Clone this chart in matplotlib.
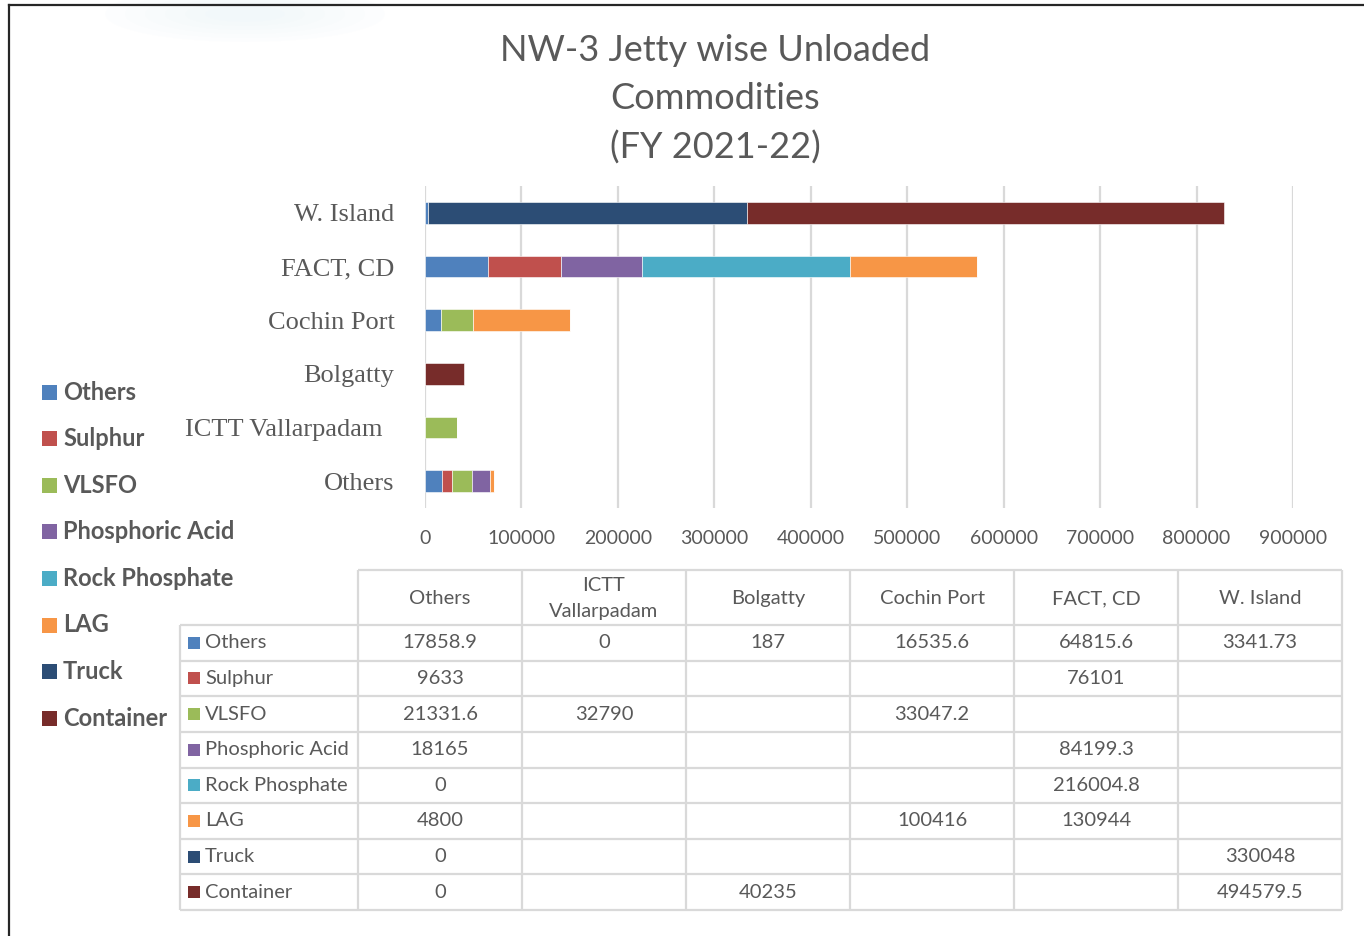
import numpy as np
import matplotlib.pyplot as plt
import matplotlib.transforms as mtransforms
from matplotlib.patches import Rectangle, Ellipse

# jetties as they appear on the y axis (bottom to top) and as table columns
jetties = ["Others", "ICTT Vallarpadam", "Bolgatty", "Cochin Port", "FACT, CD", "W. Island"]
col_heads = ["Others", "ICTT\nVallarpadam", "Bolgatty", "Cochin Port", "FACT, CD", "W. Island"]

commodities = ["Others", "Sulphur", "VLSFO", "Phosphoric Acid",
               "Rock Phosphate", "LAG", "Truck", "Container"]

# unloaded quantity per jetty, None = blank cell
others    = [17858.9, 0, 187, 16535.6, 64815.6, 3341.73]
sulphur   = [9633, None, None, None, 76101, None]
vlsfo     = [21331.6, 32790, None, 33047.2, None, None]
phos_acid = [18165, None, None, None, 84199.3, None]
rock_phos = [0, None, None, None, 216004.8, None]
lag       = [4800, None, None, 100416, 130944, None]
truck     = [0, None, None, None, None, 330048]
container = [0, None, 40235, None, None, 494579.5]

series = [others, sulphur, vlsfo, phos_acid, rock_phos, lag, truck, container]
colors = ["#4F81BD", "#C0504D", "#9BBB59", "#8064A2",
          "#4BACC6", "#F79646", "#2C4D75", "#772C2A"]

xticks = np.arange(0, 900001, 100000)

gray = "#595959"
grid = "#d9d9d9"
W, H = 1364, 936

fig = plt.figure(figsize=(W / 100, H / 100), dpi=100)

# overlay in pixel coordinates for frame, title, legend and table
ov = fig.add_axes([0, 0, 1, 1], zorder=0)
ov.set_xlim(0, W)
ov.set_ylim(H, 0)
ov.axis("off")

# faint glow top left
for k in range(6):
    ov.add_patch(Ellipse((245, 14), 280 - 40 * k, 56 - 8 * k,
                         color="#e8f2fa", alpha=0.09, lw=0))

# frame
ov.plot([9, W], [5, 5], color="#262626", lw=1.6)
ov.plot([9, 9], [5, H], color="#262626", lw=1.6)

# title
ov.text(715, 99, "NW-3 Jetty wise Unloaded\nCommodities\n(FY 2021-22)",
        ha="center", va="center", fontsize=26, color=gray,
        family="Lato", linespacing=1.56)

# chart
ax = fig.add_axes([425 / W, 1 - 508 / H, 868 / W, 322 / H], zorder=1)
ax.patch.set_alpha(0)
ypos = np.arange(len(jetties))
left = np.zeros(len(jetties))
for vals, c in zip(series, colors):
    v = np.array([0 if x is None else x for x in vals], dtype=float)
    ax.barh(ypos, v, left=left, height=0.4, color=c, edgecolor="white",
            linewidth=0.4)
    left += v

ax.set_xlim(0, 900000)
ax.set_ylim(-0.5, len(jetties) - 0.5)
ax.set_xticks(xticks)
ax.set_xticklabels([str(t) for t in xticks], family="Lato", fontsize=14,
                   color=gray)
ax.set_yticks(ypos)
ax.set_yticklabels(jetties, family="Liberation Serif", fontsize=19,
                   color=gray)
ax.tick_params(axis="both", length=0)
ax.tick_params(axis="x", pad=16)
ax.tick_params(axis="y", pad=22)
ax.grid(axis="x", color=grid, lw=1.6)
ax.set_axisbelow(True)
for s in ax.spines.values():
    s.set_visible(False)

# the long label sits a bit further left in the original
shift = mtransforms.ScaledTranslation(-0.12, 0, fig.dpi_scale_trans)
lbl = ax.get_yticklabels()[1]
lbl.set_transform(lbl.get_transform() + shift)

# legend on the left
for i, (name, c) in enumerate(zip(commodities, colors)):
    y = 392 + i * 46.6
    ov.add_patch(Rectangle((42, y - 7.5), 15, 15, color=c, lw=0))
    ov.text(63, y, name, ha="left", va="center", fontsize=17,
            fontweight="bold", color=gray, family="Lato")

# data table
col_x = [358 + 164 * k for k in range(7)]
lab_x0 = 180
head_y0, head_y1 = 570, 625
row_h = (910 - 625) / 8
lc = dict(color=grid, lw=1.6, solid_capstyle="butt")

ov.plot([col_x[0], col_x[-1]], [head_y0, head_y0], **lc)
for k, x in enumerate(col_x):
    ov.plot([x, x], [head_y0, 910], **lc)
ov.plot([lab_x0, lab_x0], [head_y1, 910], **lc)
for r in range(9):
    y = head_y1 + r * row_h
    ov.plot([lab_x0, col_x[-1]], [y, y], **lc)

for k, h in enumerate(col_heads):
    ov.text((col_x[k] + col_x[k + 1]) / 2, (head_y0 + head_y1) / 2 + 1, h,
            ha="center", va="center", fontsize=14.5, color=gray,
            family="Lato", linespacing=1.6)

for r, (name, c, vals) in enumerate(zip(commodities, colors, series)):
    yc = head_y1 + (r + 0.5) * row_h
    ov.add_patch(Rectangle((188, yc - 6), 12, 12, color=c, lw=0))
    ov.text(205, yc, name, ha="left", va="center", fontsize=14.5,
            color=gray, family="Lato")
    for k, v in enumerate(vals):
        if v is None:
            continue
        ov.text((col_x[k] + col_x[k + 1]) / 2, yc, f"{v:.10g}",
                ha="center", va="center", fontsize=14.5, color=gray,
                family="Lato")

fig.savefig("out.png", dpi=100)
